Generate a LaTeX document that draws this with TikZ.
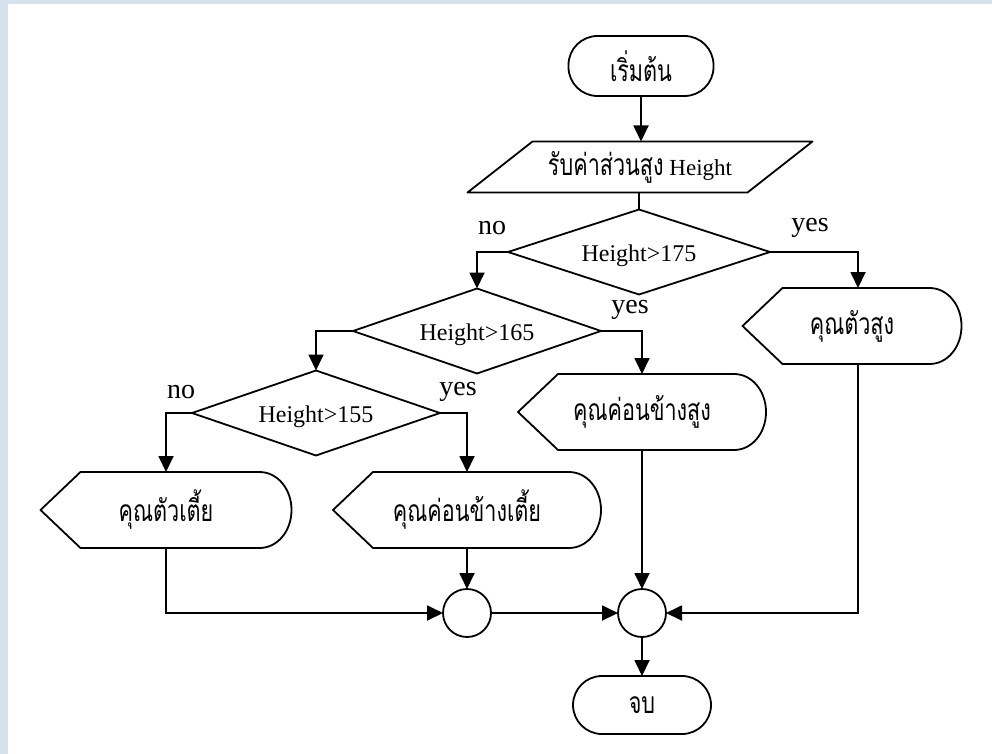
\documentclass[tikz,border=0pt]{standalone}
\usepackage{fontspec}
\setmainfont{Liberation Serif}
\newfontfamily\thaifont[Script=Thai,FakeStretch=0.72]{Loma}
\usetikzlibrary{shapes.geometric,arrows.meta,calc}
\definecolor{framec}{HTML}{D6E1EE}

\begin{document}
\begin{tikzpicture}[x=1pt,y=-1pt,
  every node/.style={inner sep=0pt,outer sep=0pt},
  lineset/.style={line width=1.8pt,draw=black},
  arr/.style={lineset,-{Triangle[length=16pt,width=15pt]}},
  terminal/.style={lineset,rectangle,rounded corners=29pt,minimum width=#1,minimum height=60pt},
  parabox/.style={rectangle,minimum width=280pt,minimum height=51pt},
  decision/.style={lineset,diamond,aspect=3,minimum width=#1,minimum height=85pt},
  dispbox/.style={rectangle,minimum width=#1,minimum height=76pt},
  joint/.style={lineset,circle,minimum size=48pt},
  thtxt/.style={font=\thaifont\fontsize{30}{34}\selectfont},
  cond/.style={font=\fontsize{24}{28}\selectfont,text height=24pt,text depth=5pt},
  branch/.style={font=\fontsize{28}{32}\selectfont}]

% page and frame strips
\fill[white] (0,0) rectangle (992,754);
\fill[framec] (0,0) rectangle (8,754);
\fill[framec] (0,0) rectangle (992,4);

% terminals, input and decisions
\node[terminal=145pt,thtxt] (start) at (641,66) {เริ่มต้น};
\node[parabox] (input) at (640,167) {{\thaifont\fontsize{30}{34}\selectfont รับค่าส่วนสูง}\fontsize{23}{27}\selectfont{} Height};
\draw[lineset,line join=round] ([xshift=-32.5pt]input.south west) -- ([xshift=32.5pt]input.north west)
  -- ([xshift=32.5pt]input.north east) -- ([xshift=-32.5pt]input.south east) -- cycle;
\node[decision=262pt,cond] (dec1) at (639,252) {Height>175};
\node[decision=248pt,cond] (dec2) at (477,331) {Height>165};
\node[decision=248pt,cond] (dec3) at (316,413) {Height>155};

% display boxes (outlines drawn below)
\node[dispbox=219pt,thtxt] (dtall) at (852,326) {คุณตัวสูง};
\node[dispbox=248pt,thtxt] (dftall) at (642,412) {คุณค่อนข้างสูง};
\node[dispbox=251pt,thtxt] (dshort) at (166,510) {คุณตัวเตี้ย};
\node[dispbox=268pt,thtxt] (dfshort) at (467,510) {คุณค่อนข้างเตี้ย};

\foreach \n in {dtall,dftall,dshort,dfshort}{
  \draw[lineset,line join=round] (\n.west) -- ([xshift=40pt]\n.north west)
    -- ([xshift=-32pt]\n.north east)
    .. controls ([xshift=-14pt]\n.north east) and ([yshift=21pt]\n.east) .. (\n.east)
    .. controls ([yshift=-21pt]\n.east) and ([xshift=-14pt]\n.south east) .. ([xshift=-32pt]\n.south east)
    -- ([xshift=40pt]\n.south west) -- cycle;
}

% connectors
\node[joint] (c1) at (467,613) {};
\node[joint] (c2) at (642,613) {};
\node[terminal=138pt,thtxt,minimum height=58pt] (stop) at (642,705) {จบ};

\draw[arr] (start) -- (start |- input.north);
\draw[lineset] (input.south -| dec1.north) -- (dec1.north);
\draw[arr] (dec1.west) -| (dec2.north);
\draw[arr] (dec1.east) -| ([xshift=6pt]dtall.north);
\draw[arr] (dec2.west) -| (dec3.north);
\draw[arr] (dec2.east) -| (dftall.north);
\draw[arr] (dec3.west) -| (dshort.north);
\draw[arr] (dec3.east) -| (dfshort.north);
\draw[arr] (dshort.south) |- (c1.west);
\draw[arr] (dfshort.south) -- (c1.north);
\draw[arr] (dftall.south) -- (c2.north);
\draw[arr] ([xshift=6pt]dtall.south) |- (c2.east);
\draw[arr] (c1.east) -- (c2.west);
\draw[arr] (c2.south) -- (stop.north);

% branch labels
\node[branch] (no1) at (492,228) {no};
\node[branch] (yes1) at (810,228) {yes};
\node[branch] (yes2) at (630,310) {yes};
\node[branch] (no3) at (181,392) {no};
\node[branch] (yes3) at (458,392) {yes};
\end{tikzpicture}
\end{document}
